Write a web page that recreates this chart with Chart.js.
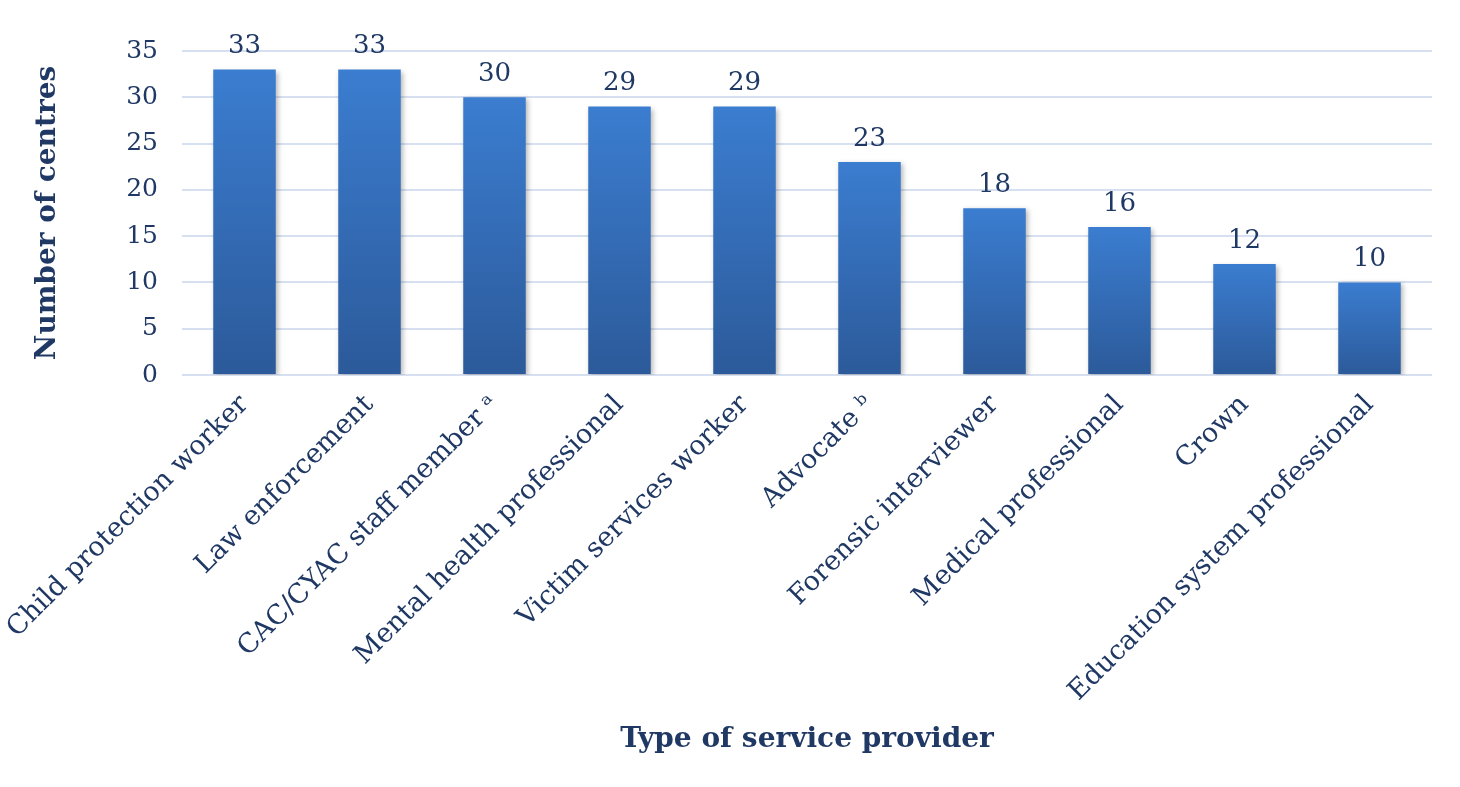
<!DOCTYPE html>
<html>
<head>
<meta charset="utf-8">
<script src="https://cdn.jsdelivr.net/npm/chart.js@4/dist/chart.umd.min.js"></script>
<style>
  html, body { margin: 0; padding: 0; background: #ffffff; }
  #wrap { width: 1460px; height: 787px; }
</style>
</head>
<body>
<div id="wrap"><canvas id="chart" width="1460" height="787"></canvas></div>
<script>
const providers = [
  'Child protection worker',
  'Law enforcement',
  'CAC/CYAC staff member \u1D43',
  'Mental health professional',
  'Victim services worker',
  'Advocate \u1D47',
  'Forensic interviewer',
  'Medical professional',
  'Crown',
  'Education system professional',
];
const centres = [33, 33, 30, 29, 29, 23, 18, 16, 12, 10];
const yTicks = [0, 5, 10, 15, 20, 25, 30, 35];

const NAVY = '#1f3864';
const FONT = "'DejaVu Serif', 'Liberation Serif', serif";

function barGradient(context) {
  const chart = context.chart;
  const yScale = chart.scales.y;
  if (!chart.chartArea || !yScale || typeof context.raw !== 'number') return '#3470bb';
  const top = yScale.getPixelForValue(context.raw);
  const base = yScale.getPixelForValue(0);
  if (!isFinite(top) || !isFinite(base) || top === base) return '#3470bb';
  const g = chart.ctx.createLinearGradient(0, top, 0, base);
  g.addColorStop(0, '#3b7dd0');
  g.addColorStop(1, '#2c5a9a');
  return g;
}

const barShadow = {
  id: 'barShadow',
  beforeDatasetDraw(chart) {
    const ctx = chart.ctx;
    ctx.save();
    ctx.shadowColor = 'rgba(0, 0, 0, 0.28)';
    ctx.shadowBlur = 5;
    ctx.shadowOffsetX = 2;
    ctx.shadowOffsetY = 2;
  },
  afterDatasetDraw(chart) {
    chart.ctx.restore();
  },
};

const valueLabels = {
  id: 'valueLabels',
  afterDatasetsDraw(chart) {
    const ctx = chart.ctx;
    const meta = chart.getDatasetMeta(0);
    ctx.save();
    ctx.font = `26px ${FONT}`;
    ctx.fillStyle = NAVY;
    ctx.textAlign = 'center';
    ctx.textBaseline = 'bottom';
    meta.data.forEach((bar, i) => {
      ctx.fillText(String(centres[i]), bar.x, bar.y - 10);
    });
    ctx.restore();
  },
};

new Chart(document.getElementById('chart'), {
  type: 'bar',
  data: {
    labels: providers,
    datasets: [
      {
        label: 'Number of centres',
        data: centres,
        backgroundColor: barGradient,
        borderWidth: 0,
        barPercentage: 0.5,
        categoryPercentage: 1,
      },
    ],
  },
  options: {
    responsive: false,
    animation: false,
    devicePixelRatio: 1,
    layout: {
      padding: { top: 51, right: 28, bottom: 0, left: 0 },
    },
    plugins: {
      legend: { display: false },
      tooltip: { enabled: false },
    },
    scales: {
      x: {
        afterFit(scale) {
          // fixed band under the plot; labels may hang past the left edge
          scale.height = 412;
          scale.paddingLeft = 0;
          scale.paddingRight = 0;
        },
        grid: { display: false, drawTicks: false },
        border: { display: false },
        ticks: {
          color: NAVY,
          font: { family: FONT, size: 27 },
          minRotation: 45,
          maxRotation: 45,
          padding: 14,
          autoSkip: false,
        },
        title: {
          display: true,
          text: 'Type of service provider',
          color: NAVY,
          font: { family: FONT, size: 28, weight: 'bold' },
          padding: { top: 0, bottom: 30 },
        },
      },
      y: {
        min: 0,
        max: 35,
        afterFit(scale) {
          scale.width = 182;
        },
        afterBuildTicks(scale) {
          scale.ticks = yTicks.map((v) => ({ value: v }));
        },
        grid: { color: '#d7e0f0', lineWidth: 2, drawTicks: false },
        border: { display: false },
        ticks: {
          color: NAVY,
          font: { family: FONT, size: 25 },
          padding: 24,
        },
        title: {
          display: true,
          text: 'Number of centres',
          color: NAVY,
          font: { family: FONT, size: 28, weight: 'bold' },
          padding: { top: 31, bottom: 0 },
        },
      },
    },
  },
  plugins: [barShadow, valueLabels],
});
</script>
</body>
</html>
